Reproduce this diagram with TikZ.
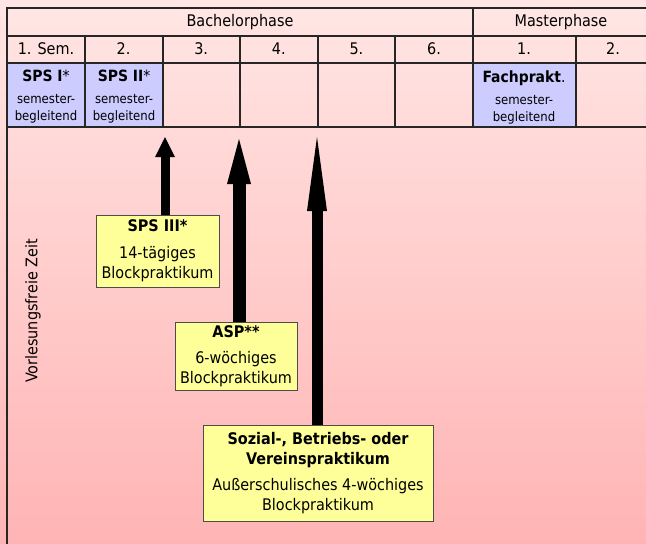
\documentclass[tikz,border=0pt]{standalone}
\usepackage{fontspec}
\setmainfont{DejaVu Sans Condensed}
\definecolor{rosetop}{RGB}{255,230,228}
\definecolor{rosebot}{RGB}{255,180,180}
\definecolor{semblue}{RGB}{204,204,255}
\definecolor{boxyellow}{RGB}{255,255,153}
\newcommand{\cellfont}{\fontsize{16}{20}\selectfont}
\newcommand{\notefont}{\fontsize{13}{17}\selectfont}
\newcommand{\titlefont}{\fontsize{15.5}{17}\selectfont}
\tikzset{
  grid/.style={draw=black!85, line width=1.2pt},
  semcell/.style={align=center, inner sep=0pt, font=\notefont},
  praxbox/.style={draw=black!70, line width=0.8pt, fill=boxyellow, align=center, inner sep=0pt, font=\cellfont},
}
\begin{document}
\begin{tikzpicture}[x=1pt,y=-1pt]
\useasboundingbox (0,0) rectangle (646,544);
\shade[top color=rosetop, bottom color=rosebot] (0,0) rectangle (646,544);
% semesterbegleitende Felder
\fill[semblue] (7,63) rectangle (163,127);
\fill[semblue] (473,63) rectangle (576,127);
% Tabelle
\draw[grid] (650,8) -- (7,8) -- (7,544);
\draw[grid] (7,36) -- (650,36) (7,63) -- (650,63) (7,127) -- (650,127);
\draw[grid] (473,8) -- (473,127);
\foreach \x in {85,163,240,318,395,576}
  \draw[grid] (\x,36) -- (\x,127);
\node[font=\cellfont] (bach) at (240,22) {Bachelorphase};
\node[font=\cellfont] (mast) at (561,22) {Masterphase};
\foreach \t [count=\i] in {1. Sem.,2.,3.,4.,5.,6.}
  \node[font=\cellfont] (sem\i) at ({46+77.6*(\i-1)},49) {\t};
\node[font=\cellfont] (msem1) at (524,49) {1.};
\node[font=\cellfont] (msem2) at (613,49) {2.};
\node[semcell] (sps1) at (46,97) {{\titlefont\textbf{SPS I}*}\\[5pt] semester-\\ begleitend};
\node[semcell] (sps2) at (124,97) {{\titlefont\textbf{SPS II}*}\\[5pt] semester-\\ begleitend};
\node[semcell] (fach) at (524,97) {{\titlefont\textbf{Fachprakt}.}\\[5pt] semester-\\ begleitend};
\node[rotate=90, font=\cellfont] (vfz) at (33,311) {Vorlesungsfreie Zeit};
% Blockpraktika
\node[praxbox, minimum width=123pt, minimum height=72pt] (sps3) at (157.5,251)
  {\textbf{SPS III*}\\[7pt] 14-tägiges\\ Blockpraktikum};
\node[praxbox, minimum width=122pt, minimum height=68pt] (asp) at (236,356)
  {\textbf{ASP**}\\[6pt] 6-wöchiges\\ Blockpraktikum};
\node[praxbox, minimum width=230pt, minimum height=96pt] (sbv) at (318,473)
  {\textbf{Sozial-, Betriebs- oder}\\ \textbf{Vereinspraktikum}\\[6pt] Außerschulisches 4-wöchiges\\ Blockpraktikum};
% Pfeile: Spitze / Kasten / Kopflaenge / halbe Kopfbreite / Schaftbreite
\coordinate (tip1) at (165,137);
\coordinate (tip2) at (239,139);
\coordinate (tip3) at (317,137);
\foreach \tip/\kasten/\len/\half/\lw in {tip1/sps3/20/10/9, tip2/asp/45/12/13, tip3/sbv/74/10/11}{
  \draw[line width=\lw pt] (\tip |- \kasten.north) -- ([yshift=-\len pt+0.5pt]\tip);
  \fill (\tip) -- ++(-\half,\len) -- ++(2*\half,0) -- cycle;
}
\end{tikzpicture}
\end{document}
